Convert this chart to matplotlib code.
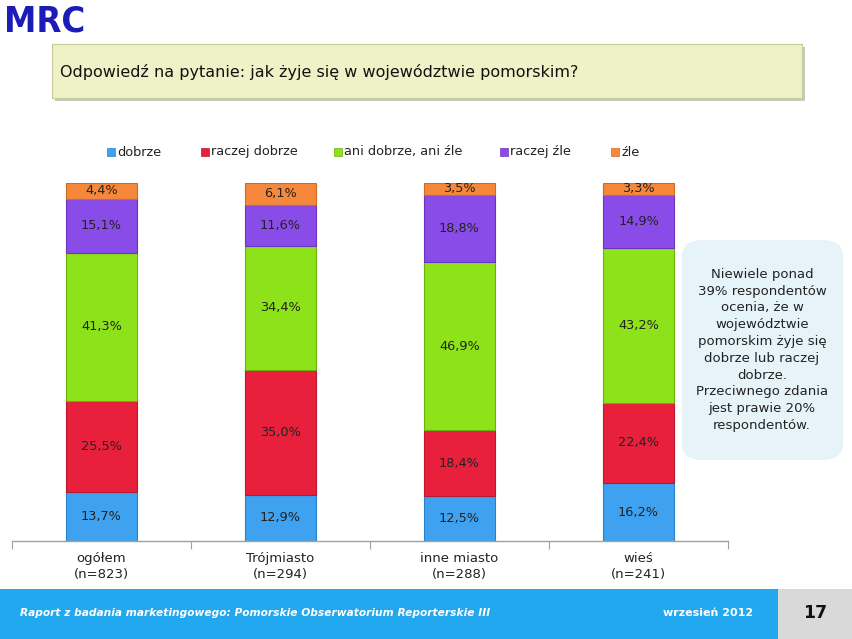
import matplotlib
matplotlib.use("Agg")
import matplotlib.pyplot as plt
from matplotlib.patches import Rectangle, FancyBboxPatch
from matplotlib import font_manager
import numpy as np

categories = ["ogółem\n(n=823)", "Trójmiasto\n(n=294)", "inne miasto\n(n=288)", "wieś\n(n=241)"]
series_names = ["dobrze", "raczej dobrze", "ani dobrze, ani źle", "raczej źle", "źle"]
dobrze = [13.7, 12.9, 12.5, 16.2]
raczej_dobrze = [25.5, 35.0, 18.4, 22.4]
ani = [41.3, 34.4, 46.9, 43.2]
raczej_zle = [15.1, 11.6, 18.8, 14.9]
zle = [4.4, 6.1, 3.5, 3.3]
series = [dobrze, raczej_dobrze, ani, raczej_zle, zle]

colors = ["#3ea2f0", "#e8203c", "#8ee21a", "#8a4ce8", "#f5883a"]
edges = ["#2a80c8", "#b81830", "#6cb010", "#6a34c0", "#d06a20"]

title = "Odpowiedź na pytanie: jak żyje się w województwie pomorskim?"
note = ("Niewiele ponad\n39% respondentów\nocenia, że w\nwojewództwie\npomorskim żyje się\n"
        "dobrze lub raczej\ndobrze.\nPrzeciwnego zdania\njest prawie 20%\nrespondentów.")
footer_left = "Raport z badania marketingowego: Pomorskie Obserwatorium Reporterskie III"
footer_date = "wrzesień 2012"
page_no = "17"

W, H = 852, 639
fig = plt.figure(figsize=(W / 100, H / 100), dpi=100)
fig.patch.set_facecolor("white")

def fx(px):
    return px / W

def fy(py):
    return 1 - py / H

# axes
ax = fig.add_axes([fx(12), fy(541), fx(716), 358 / H])
x = np.arange(len(categories))
bottom = np.zeros(len(categories))
for vals, c, e, name in zip(series, colors, edges, series_names):
    vals = np.array(vals)
    ax.bar(x, vals, width=0.397, bottom=bottom, color=c, edgecolor=e,
           linewidth=0.8, label=name)
    for xi, b, v in zip(x, bottom, vals):
        ax.text(xi, b + v / 2, f"{v:.1f}%".replace(".", ","), ha="center", va="center",
                fontsize=9.3, color="#222222")
    bottom += vals

ax.set_xlim(-0.5, 3.5)
ax.set_ylim(0, 100)
for s in ["top", "right", "left"]:
    ax.spines[s].set_visible(False)
ax.spines["bottom"].set_color("#a0a0a0")
ax.spines["bottom"].set_linewidth(1.0)
ax.set_yticks([])
ax.set_xticks([-0.5, 0.5, 1.5, 2.5, 3.5])
ax.set_xticklabels([])
ax.tick_params(axis="x", length=6, color="#a0a0a0")
ax.set_xticks(x, minor=True)
ax.set_xticklabels(categories, minor=True, fontsize=9.5, color="#222222", linespacing=1.3)
ax.tick_params(axis="x", which="minor", length=0, pad=8)

# legend (manual)
leg_x = [107, 201, 334, 500, 611]
for lx, name, c, e in zip(leg_x, series_names, colors, edges):
    fig.patches.append(Rectangle((fx(lx), fy(156)), fx(8), 8 / H, transform=fig.transFigure,
                                 facecolor=c, edgecolor=e, linewidth=0.5))
    fig.text(fx(lx + 10), fy(152), name, fontsize=9.3, va="center", ha="left", color="#222222")

# MRC logo
narrow = None
for fam in ["Liberation Sans Narrow", "DejaVu Sans"]:
    try:
        font_manager.findfont(font_manager.FontProperties(family=fam), fallback_to_default=False)
        narrow = fam
        break
    except Exception:
        pass
fig.text(fx(4), fy(21), "MRC", fontsize=26, fontweight="bold", color="#1c1cb8",
         family=[narrow or "DejaVu Sans"], fontstretch="condensed", va="center", ha="left")

# title box with shadow
fig.patches.append(Rectangle((fx(55), fy(101)), fx(750), 54 / H, transform=fig.transFigure,
                             facecolor="#c8c8c8", edgecolor="none"))
fig.patches.append(Rectangle((fx(52), fy(98)), fx(750), 54 / H, transform=fig.transFigure,
                             facecolor="#eef2c6", edgecolor="#c8cc98", linewidth=0.8))
fig.text(fx(60), fy(72), title, fontsize=11.5, va="center", ha="left", color="#111111")

# note box
fig.patches.append(FancyBboxPatch((fx(682), fy(460)), fx(161), 220 / H,
                                  boxstyle="round,pad=0,rounding_size=0.025",
                                  transform=fig.transFigure, facecolor="#e6f3f8",
                                  edgecolor="none"))
fig.text(fx(762), fy(350), note, fontsize=9.5, va="center", ha="center", color="#222222",
         linespacing=1.38)

# footer
fig.patches.append(Rectangle((0, 0), fx(778), 50 / H, transform=fig.transFigure,
                             facecolor="#22a8ee", edgecolor="none"))
fig.patches.append(Rectangle((fx(778), 0), fx(74), 50 / H, transform=fig.transFigure,
                             facecolor="#d9d9d9", edgecolor="none"))
fig.text(fx(20), fy(613), footer_left, fontsize=7.7, fontweight="bold", fontstyle="italic",
         color="white", va="center", ha="left")
fig.text(fx(708), fy(613), footer_date, fontsize=8, fontweight="bold",
         color="white", va="center", ha="center")
fig.text(fx(815), fy(613), page_no, fontsize=12.5, fontweight="bold",
         color="#111111", va="center", ha="center")

fig.savefig("out.png", dpi=100)
